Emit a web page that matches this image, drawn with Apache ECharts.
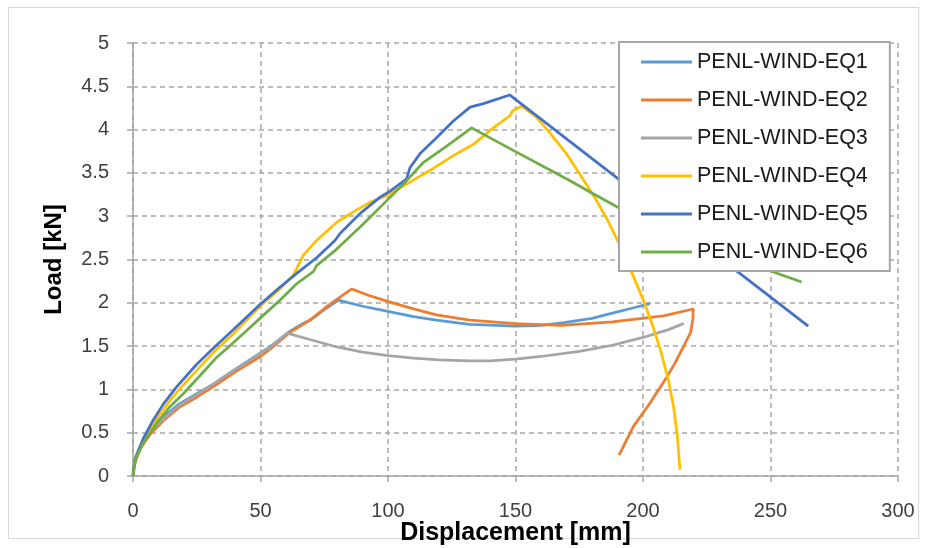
<!DOCTYPE html>
<html>
<head>
<meta charset="utf-8">
<script src="https://cdn.jsdelivr.net/npm/echarts@6/dist/echarts.min.js"></script>
<style>
html,body{margin:0;padding:0;background:#fff;}
#frame{position:absolute;left:8px;top:7px;width:911px;height:532px;border:1px solid #d9d9d9;box-sizing:border-box;}
#chart{position:absolute;left:0;top:0;width:926px;height:548px;}
</style>
</head>
<body>
<div id="frame"></div>
<div id="chart"></div>
<script>
// ---- data (displacement mm, load kN) ----
var seriesNames = ['PENL-WIND-EQ1','PENL-WIND-EQ2','PENL-WIND-EQ3','PENL-WIND-EQ4','PENL-WIND-EQ5','PENL-WIND-EQ6'];
var xTicks = [0, 50, 100, 150, 200, 250, 300];
var yTicks = [0, 0.5, 1, 1.5, 2, 2.5, 3, 3.5, 4, 4.5, 5];

var eq1 = [[0,0],[0.5,0.13],[1,0.22],[3,0.36],[7,0.52],[12,0.68],[18,0.83],[25,0.95],[32,1.07],[40,1.23],[50,1.42],[55,1.52],[61,1.66],[66,1.75],[70,1.81],[76,1.94],[80.5,2.03],[90,1.96],[100,1.90],[110,1.84],[119,1.80],[132,1.75],[150,1.73],[160,1.74],[169,1.77],[180,1.82],[188,1.88],[196,1.94],[202.7,1.99]];
var eq2 = [[0,0],[0.5,0.10],[1,0.18],[3,0.32],[7,0.49],[12,0.64],[18,0.79],[25,0.91],[32,1.04],[40,1.20],[50,1.38],[54,1.47],[61.6,1.66],[69.4,1.80],[76.6,1.97],[80.5,2.05],[85.8,2.16],[92,2.09],[99.5,2.02],[110,1.93],[119,1.86],[132,1.80],[150,1.76],[168,1.74],[188,1.78],[208,1.85],[218.4,1.92],[219.7,1.93],[219.6,1.82],[218.7,1.66],[215.8,1.49],[212.5,1.30],[209.3,1.14],[202.7,0.84],[196.2,0.57],[190.6,0.24]];
var eq3 = [[0,0],[0.5,0.12],[1,0.20],[2.8,0.34],[6.7,0.51],[11.9,0.66],[18.4,0.82],[25,0.94],[31.5,1.06],[38,1.19],[44,1.30],[50,1.42],[54,1.49],[60.5,1.65],[70,1.57],[80,1.49],[90,1.43],[100,1.39],[110,1.36],[120,1.34],[132,1.33],[140,1.33],[150,1.35],[160,1.38],[175,1.44],[188,1.51],[200,1.60],[210,1.69],[216,1.76]];
var eq4 = [[0,0],[0.5,0.12],[2,0.27],[5,0.45],[10,0.69],[15,0.89],[20,1.06],[25,1.22],[32,1.44],[39.3,1.64],[49.8,1.96],[57.6,2.16],[62.9,2.32],[66.8,2.55],[72,2.72],[79.9,2.93],[86.4,3.05],[92.9,3.16],[99.5,3.24],[107.3,3.37],[116.5,3.53],[125.6,3.70],[133.5,3.83],[141.3,4.02],[147.8,4.16],[149,4.22],[152.4,4.27],[158,4.15],[163,3.98],[170,3.72],[176,3.45],[181,3.22],[186,2.96],[191,2.66],[196,2.32],[200,2.04],[204,1.72],[207,1.44],[210,1.10],[212,0.80],[213.5,0.45],[214.5,0.07]];
var eq5 = [[0,0],[0.3,0.10],[1.4,0.23],[4,0.43],[8,0.65],[11.9,0.83],[17.1,1.03],[25,1.29],[32,1.49],[39.3,1.69],[49.8,1.98],[57.6,2.18],[64.2,2.34],[72,2.52],[79.2,2.72],[81.2,2.80],[89,3.03],[96.9,3.22],[100.8,3.29],[107.3,3.43],[108.6,3.56],[112.5,3.72],[117.8,3.87],[125.6,4.10],[132.2,4.26],[137.4,4.30],[147.7,4.40],[190.3,3.43],[234,2.43],[264.8,1.73]];
var eq6 = [[0,0],[0.8,0.18],[4,0.38],[9.3,0.61],[14.5,0.80],[19.7,0.95],[26.3,1.16],[32.8,1.37],[36.7,1.47],[44.6,1.68],[49.8,1.82],[57.6,2.03],[64.2,2.22],[70.7,2.36],[72,2.43],[79.9,2.62],[90.3,2.91],[99.5,3.18],[107.3,3.41],[113.8,3.62],[123,3.81],[132.8,4.02],[149.1,3.76],[171.4,3.41],[181,3.25],[190.3,3.10],[220,2.74],[245.9,2.41],[262.2,2.24]];

var seriesData = [eq1, eq2, eq3, eq4, eq5, eq6];
var colors = ['#5B9BD5','#ED7D31','#A5A5A5','#FFC000','#4472C4','#70AD47'];

var chart = echarts.init(document.getElementById('chart'), null, {renderer:'canvas'});
var font = "'Liberation Sans', Arial, sans-serif";
var option = {
  animation: false,
  color: colors,
  grid: {left:133, top:43, width:765, height:433, containLabel:false, outerBoundsMode:'none'},
  legend: {
    orient:'vertical', left:619, top:42,
    padding:[9,22,8,22],
    backgroundColor:'#ffffff', borderColor:'#a6a6a6', borderWidth:2,
    itemWidth:51, itemHeight:3, itemGap:16, icon:'rect',
    textStyle:{fontFamily:font, fontSize:21.5, color:'#1a1a1a', lineHeight:21},
    data: seriesNames
  },
  xAxis: {
    type:'value', min:xTicks[0], max:xTicks[xTicks.length-1], interval:50,
    name:'Displacement [mm]', nameLocation:'middle', nameGap:45, nameMoveOverlap:false,
    nameTextStyle:{fontFamily:font, fontSize:25, fontWeight:'bold', color:'#000'},
    axisLine:{show:true, lineStyle:{color:'#a6a6a6', width:1.5}},
    axisTick:{show:true, length:6, lineStyle:{color:'#a6a6a6', width:1.5}},
    axisLabel:{fontFamily:font, fontSize:20, color:'#404040', margin:25},
    splitLine:{show:true, lineStyle:{color:'#a6a6a6', type:[5,4], width:1.5}}
  },
  yAxis: {
    type:'value', min:yTicks[0], max:yTicks[yTicks.length-1], interval:0.5,
    name:'Load [kN]', nameLocation:'middle', nameGap:67, nameRotate:90, nameMoveOverlap:false,
    nameTextStyle:{fontFamily:font, fontSize:24, fontWeight:'bold', color:'#000'},
    axisLine:{show:true, lineStyle:{color:'#a6a6a6', width:1.5}},
    axisTick:{show:true, length:6, lineStyle:{color:'#a6a6a6', width:1.5}},
    axisLabel:{fontFamily:font, fontSize:20, color:'#404040', margin:24},
    splitLine:{show:true, lineStyle:{color:'#a6a6a6', type:[5,4], width:1.5}}
  },
  series: seriesNames.map(function(n,i){
    return {name:n, type:'line', data:seriesData[i], showSymbol:false, smooth:false,
            lineStyle:{width:2.75, color:colors[i]}, itemStyle:{color:colors[i]}};
  })
};
chart.setOption(option);
</script>
</body>
</html>
